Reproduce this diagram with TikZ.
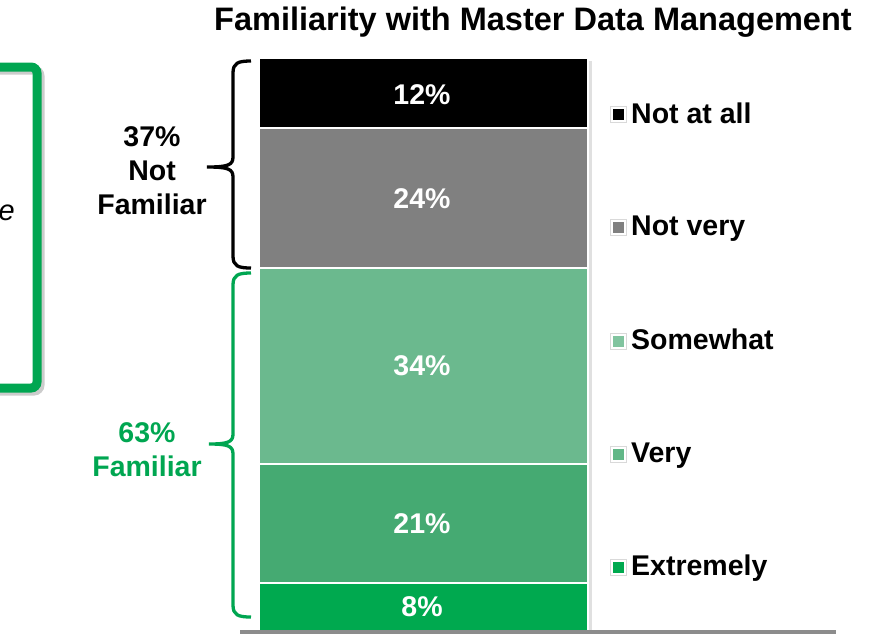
\documentclass[tikz,border=0pt]{standalone}
\usepackage{fontspec}
\setmainfont{Liberation Sans}
\usetikzlibrary{calc}
\definecolor{mdmgreen}{HTML}{00A651}
\definecolor{somewhatgreen}{HTML}{6BB98E}
\definecolor{verygreen}{HTML}{45AA72}
\definecolor{extremegreen}{HTML}{00A94F}
\definecolor{notverygray}{HTML}{808080}
\definecolor{axisgray}{HTML}{8C8C8C}
\def\sidebrace[#1](#2:#3:#4:#5){\draw[#1] (251,#2) .. controls (238,#2) and (233,#2+2) .. (233,#2+12) -- (233,#3-10) .. controls (233,#3-2) and (228,#3) .. (#5,#3) .. controls (228,#3) and (233,#3+2) .. (233,#3+10) -- (233,#4-12) .. controls (233,#4-2) and (238,#4) .. (251,#4);}
\def\legendbox(#1)[#2]{\draw[black!15, fill=white] ($(#1)+(-8,-8)$) rectangle ($(#1)+(8,8)$); \fill[#2] ($(#1)+(-5.5,-5.5)$) rectangle ($(#1)+(5.5,5.5)$);}
\tikzset{
  big/.style={font=\fontsize{28.5}{34}\selectfont\bfseries},
  barlabel/.style={big, text=white},
  legendtext/.style={big, anchor=base west, inner sep=0pt},
  segment/.style={draw=white, line width=2.2},
}

\begin{document}
\begin{tikzpicture}[x=1pt, y=-1pt]
	\useasboundingbox (0,0) rectangle (869,633);
	\clip (0,0) rectangle (869,633);
	%%%%% TITLE %%%%%
	\node[font=\fontsize{32.5}{36}\selectfont\bfseries] (title) at (533,22) {Familiarity with Master Data Management};
	
	%%%%% LEFT BOX %%%%%
	\draw[line width=9, black!20, rounded corners=6] (-37,70) rectangle (40,391);
	\draw[line width=9, mdmgreen, rounded corners=6] (-40,67) rectangle (37,388);
	\node[font=\fontsize{29}{34}\selectfont\itshape, anchor=east, inner sep=0pt] (boxtext) at (15,213) {e};
	
	%%%%% BAR %%%%%
	\fill[black!12] (261,61) rectangle (592,640);
	\filldraw[segment, fill=black] (259,58) rectangle (588,128);
	\filldraw[segment, fill=notverygray] (259,128) rectangle (588,268);
	\filldraw[segment, fill=somewhatgreen] (259,268) rectangle (588,464);
	\filldraw[segment, fill=verygreen] (259,464) rectangle (588,583);
	\filldraw[segment, fill=extremegreen] (259,583) rectangle (588,640);
	
	\node[barlabel] (notatallpct) at (422,95) {12\%};
	\node[barlabel] (notverypct) at (422,199) {24\%};
	\node[barlabel] (somewhatpct) at (422,366) {34\%};
	\node[barlabel] (verypct) at (422,524) {21\%};
	\node[barlabel] (extremelypct) at (422,607) {8\%};
	
	\draw[axisgray, line width=3.5] (240,632) -- (836,632);
	
	%%%%% BRACES %%%%%
	\sidebrace[line width=3.3, black](61:167:268:207);
	\sidebrace[line width=3.3, mdmgreen](273:444:617:209);
	\node[big, align=center] (notfamiliar) at (152,171) {37\%\\Not\\Familiar};
	\node[big, align=center, text=mdmgreen] (familiar) at (147,450) {63\%\\Familiar};
	
	%%%%% LEGEND %%%%%
	\legendbox(618,114)[black];
	\legendbox(618,227)[notverygray];
	\legendbox(618,341)[somewhatgreen!85!white];
	\legendbox(618,454)[verygreen!85!white];
	\legendbox(618,567)[extremegreen];
	\node[legendtext] (notatall) at (631,123) {Not at all};
	\node[legendtext] (notvery) at (631,235) {Not very};
	\node[legendtext] (somewhat) at (631,349) {Somewhat};
	\node[legendtext] (very) at (631,462) {Very};
	\node[legendtext] (extremely) at (631,575) {Extremely};
\end{tikzpicture}
\end{document}
